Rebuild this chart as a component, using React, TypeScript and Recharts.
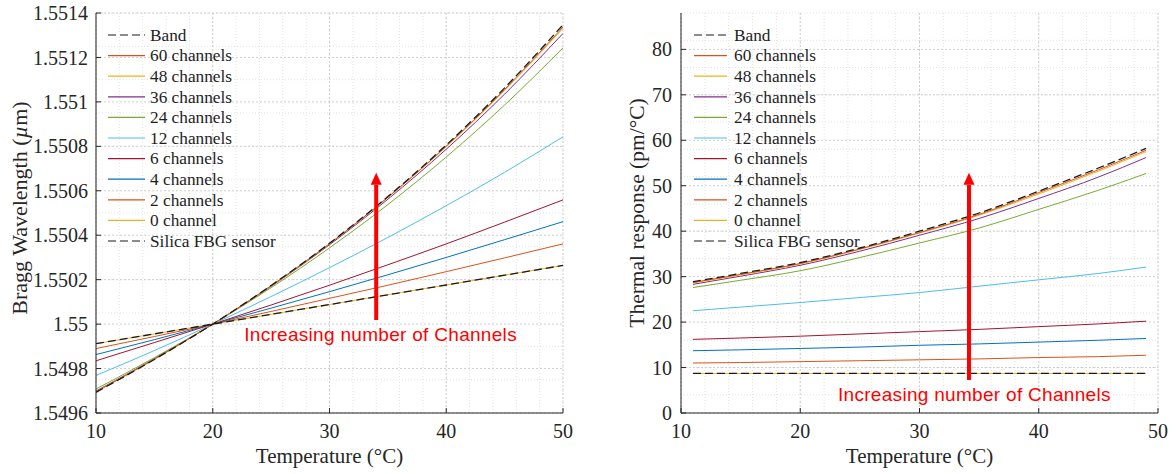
import {
    LineChart,
    Line,
    XAxis,
    YAxis,
    CartesianGrid,
    Legend,
    ReferenceLine,
} from "recharts";

// temperatures (°C)
const tempsBragg = [10, 15, 20, 25, 30, 35, 40, 45, 50];
const tempsResp = [11, 15, 20, 25, 30, 35, 40, 45, 49];

// Bragg wavelength (µm), left panel
const braggBand = [1.549693, 1.549841, 1.55, 1.550174, 1.550364, 1.550574, 1.550806, 1.551063, 1.551347];
const bragg60 = [1.549695, 1.549842, 1.55, 1.550173, 1.550362, 1.550571, 1.550801, 1.551056, 1.551337];
const bragg48 = [1.549696, 1.549842, 1.55, 1.550172, 1.550361, 1.550569, 1.550798, 1.551052, 1.551331];
const bragg36 = [1.549699, 1.549844, 1.55, 1.55017, 1.550357, 1.550562, 1.550787, 1.551035, 1.551308];
const bragg24 = [1.549708, 1.549849, 1.55, 1.550164, 1.550343, 1.550538, 1.550752, 1.550986, 1.551243];
const bragg12 = [1.549769, 1.549881, 1.55, 1.550124, 1.550254, 1.55039, 1.550533, 1.550683, 1.550843];
const bragg6 = [1.549835, 1.549917, 1.55, 1.550086, 1.550175, 1.550267, 1.550361, 1.550459, 1.550559];
const bragg4 = [1.549863, 1.54993, 1.55, 1.550072, 1.550146, 1.550222, 1.5503, 1.55038, 1.550461];
const bragg2 = [1.54989, 1.549944, 1.55, 1.550057, 1.550116, 1.550175, 1.550236, 1.550298, 1.550361];
const bragg0 = [1.549912, 1.549956, 1.55, 1.550044, 1.550088, 1.550132, 1.550176, 1.55022, 1.550264];
const braggSilica = [1.549912, 1.549956, 1.55, 1.550044, 1.550088, 1.550132, 1.550176, 1.55022, 1.550264];

// thermal response (pm/°C), right panel
const respBand = [28.9, 30.7, 33.1, 36.3, 40.0, 44.0, 48.8, 53.9, 58.2];
const resp60 = [28.7, 30.5, 32.9, 36.1, 39.7, 43.7, 48.5, 53.5, 57.8];
const resp48 = [28.6, 30.4, 32.8, 36.0, 39.6, 43.5, 48.2, 53.2, 57.5];
const resp36 = [28.3, 30.1, 32.5, 35.6, 39.1, 42.8, 47.2, 51.9, 56.2];
const resp24 = [27.6, 29.2, 31.3, 34.2, 37.4, 40.7, 44.8, 49.0, 52.7];
const resp12 = [22.5, 23.3, 24.3, 25.4, 26.5, 27.9, 29.3, 30.7, 32.1];
const resp6 = [16.2, 16.5, 16.9, 17.4, 17.9, 18.4, 19.0, 19.6, 20.2];
const resp4 = [13.7, 13.9, 14.2, 14.5, 14.9, 15.2, 15.6, 16.0, 16.4];
const resp2 = [11.0, 11.1, 11.3, 11.5, 11.7, 11.9, 12.2, 12.4, 12.7];
const resp0 = [8.7, 8.7, 8.7, 8.7, 8.7, 8.7, 8.7, 8.7, 8.7];
const respSilica = [8.7, 8.7, 8.7, 8.7, 8.7, 8.7, 8.7, 8.7, 8.7];

// ticks
const xTicks = [10, 20, 30, 40, 50];
const braggTicks = [1.5496, 1.5498, 1.55, 1.5502, 1.5504, 1.5506, 1.5508, 1.551, 1.5512, 1.5514];
const respTicks = [0, 10, 20, 30, 40, 50, 60, 70, 80];

// arrow annotations (data coords)
const braggArrow = { x: 34, from: 1.5500185, to: 1.5506814 };
const respArrow = { x: 34.15, from: 7.26, to: 52.87 };

const series = [
    { key: "band", name: "Band", color: "#1a1a1a", dashed: true },
    { key: "c60", name: "60 channels", color: "#D95319", dashed: false },
    { key: "c48", name: "48 channels", color: "#EDB120", dashed: false },
    { key: "c36", name: "36 channels", color: "#7E2F8E", dashed: false },
    { key: "c24", name: "24 channels", color: "#77AC30", dashed: false },
    { key: "c12", name: "12 channels", color: "#4DBEEE", dashed: false },
    { key: "c6", name: "6 channels", color: "#A2142F", dashed: false },
    { key: "c4", name: "4 channels", color: "#0072BD", dashed: false },
    { key: "c2", name: "2 channels", color: "#D95319", dashed: false },
    { key: "c0", name: "0 channel", color: "#EDB120", dashed: false },
    { key: "silica", name: "Silica FBG sensor", color: "#1a1a1a", dashed: true },
];

// draw colored lines first, dashed ones on top
const drawOrder = [...series.filter((s) => !s.dashed).reverse(), ...series.filter((s) => s.dashed)];

const braggData = tempsBragg.map((t, i) => ({
    t,
    band: braggBand[i],
    c60: bragg60[i],
    c48: bragg48[i],
    c36: bragg36[i],
    c24: bragg24[i],
    c12: bragg12[i],
    c6: bragg6[i],
    c4: bragg4[i],
    c2: bragg2[i],
    c0: bragg0[i],
    silica: braggSilica[i],
}));

const respData = tempsResp.map((t, i) => ({
    t,
    band: respBand[i],
    c60: resp60[i],
    c48: resp48[i],
    c36: resp36[i],
    c24: resp24[i],
    c12: resp12[i],
    c6: resp6[i],
    c4: resp4[i],
    c2: resp2[i],
    c0: resp0[i],
    silica: respSilica[i],
}));

const steps = (start: number, stop: number, step: number, digits: number) => {
    const out: number[] = [];
    const n = Math.round((stop - start) / step);
    for (let i = 0; i <= n; i++) out.push(Number((start + i * step).toFixed(digits)));
    return out;
};

const xMinor = steps(10, 50, 2, 0);
const braggMinor = steps(1.5496, 1.5514, 0.00005, 5);
const respMinor = steps(0, 88, 2, 0);

const serif = '"Liberation Serif", "Times New Roman", serif';
const sans = '"Liberation Sans", Arial, sans-serif';
const ink = "#262626";

const tickStyle = { fill: ink, fontSize: 20, fontFamily: serif, style: { fontFamily: serif } };

function LegendBlock({ lineW, gap }: { lineW: number; gap: number }) {
    return (
        <svg width={240} height={240} style={{ display: "block", overflow: "visible" }}>
            {series.map((s, i) => {
                const y = 13 + i * 20.6;
                return (
                    <g key={s.key}>
                        <line
                            x1={8}
                            x2={8 + lineW}
                            y1={y}
                            y2={y}
                            stroke={s.color}
                            strokeWidth={1.2}
                            strokeDasharray={s.dashed ? "8 4" : undefined}
                        />
                        <text
                            x={8 + lineW + gap}
                            y={y}
                            dy="0.33em"
                            fontSize={17.3}
                            fontFamily={serif}
                            style={{ fontFamily: serif }}
                            fill="#1e1e1e"
                        >
                            {s.name}
                        </text>
                    </g>
                );
            })}
        </svg>
    );
}

function XLabel(props: any) {
    const { viewBox } = props;
    return (
        <text
            x={viewBox.x + viewBox.width / 2}
            y={viewBox.y + 50}
            textAnchor="middle"
            fontSize={21}
            fontFamily={serif}
            fill={ink}
        >
            Temperature (°C)
        </text>
    );
}

function YLabel(props: any) {
    const { viewBox, cx, shift, size, children } = props;
    const cy = viewBox.y + viewBox.height / 2 + shift;
    return (
        <text
            x={cx}
            y={cy}
            dy="0.33em"
            transform={`rotate(-90 ${cx} ${cy})`}
            textAnchor="middle"
            fontSize={size}
            fontFamily={serif}
            fill={ink}
        >
            {children}
        </text>
    );
}

function Arrow(props: any) {
    const { x1, y1, x2, y2, textDx } = props;
    const head = 12;
    return (
        <g>
            <line x1={x1} y1={y1} x2={x2} y2={y2 + head} stroke="#ff0000" strokeWidth={4} />
            <polygon points={`${x2 - 5.5},${y2 + head} ${x2 + 5.5},${y2 + head} ${x2},${y2}`} fill="#ff0000" />
            <text x={x1 + textDx} y={y1 + 21} fontSize={19} letterSpacing={0.3} fontFamily={sans} fill="#ff0000">
                Increasing number of Channels
            </text>
        </g>
    );
}

function renderLines() {
    return drawOrder.map((s) => (
        <Line
            key={s.key}
            type="monotone"
            dataKey={s.key}
            name={s.name}
            stroke={s.color}
            strokeWidth={s.dashed ? 1.3 : 1}
            strokeDasharray={s.dashed ? "8 4" : undefined}
            dot={false}
            activeDot={false}
            isAnimationActive={false}
        />
    ));
}

export default function App() {
    return (
        <div style={{ position: "absolute", left: 0, top: 0, width: 1176, height: 474, background: "#fff", display: "flex" }}>
            <LineChart width={590} height={474} data={braggData} margin={{ top: 13, right: 27, bottom: 0, left: 0 }}>
                <CartesianGrid verticalValues={xMinor} horizontalValues={braggMinor} stroke="#e3e3e3" strokeDasharray="1 2" fill="none" />
                <CartesianGrid verticalValues={xTicks} horizontalValues={braggTicks} stroke="#cfcfcf" strokeDasharray="2 2" fill="none" />
                <XAxis
                    type="number"
                    dataKey="t"
                    domain={[10, 50]}
                    ticks={xTicks}
                    allowDataOverflow
                    height={61}
                    tickSize={-5}
                    tickMargin={16}
                    tick={tickStyle}
                    stroke={ink}
                    label={<XLabel />}
                />
                <YAxis
                    type="number"
                    domain={[1.5496, 1.5514]}
                    ticks={braggTicks}
                    allowDataOverflow
                    width={96}
                    tickSize={-5}
                    tickMargin={13}
                    tick={tickStyle}
                    stroke={ink}
                    tickFormatter={(v: number) => String(Number(v.toFixed(4)))}
                    label={
                        <YLabel cx={20} shift={-5} size={22}>
                            Bragg Wavelength (<tspan fontStyle="italic">µ</tspan>m)
                        </YLabel>
                    }
                />
                {renderLines()}
                <ReferenceLine
                    segment={[
                        { x: braggArrow.x, y: braggArrow.from },
                        { x: braggArrow.x, y: braggArrow.to },
                    ]}
                    shape={(p: any) => <Arrow {...p} textDx={-132} />}
                />
                <Legend
                    layout="vertical"
                    align="center"
                    verticalAlign="middle"
                    wrapperStyle={{ left: 100, top: 22, width: 240, height: 240 }}
                    content={() => <LegendBlock lineW={37} gap={5} />}
                />
            </LineChart>

            <LineChart width={586} height={474} data={respData} margin={{ top: 13, right: 18, bottom: 0, left: 0 }}>
                <CartesianGrid verticalValues={xMinor} horizontalValues={respMinor} stroke="#e3e3e3" strokeDasharray="1 2" fill="none" />
                <CartesianGrid verticalValues={xTicks} horizontalValues={respTicks} stroke="#cfcfcf" strokeDasharray="2 2" fill="none" />
                <XAxis
                    type="number"
                    dataKey="t"
                    domain={[10, 50]}
                    ticks={xTicks}
                    allowDataOverflow
                    height={61}
                    tickSize={-5}
                    tickMargin={16}
                    tick={tickStyle}
                    stroke={ink}
                    label={<XLabel />}
                />
                <YAxis
                    type="number"
                    domain={[0, 88]}
                    ticks={respTicks}
                    allowDataOverflow
                    width={91}
                    tickSize={-5}
                    tickMargin={14}
                    tick={tickStyle}
                    stroke={ink}
                    label={
                        <YLabel cx={47} shift={0} size={21.5}>
                            Thermal response (pm/°C)
                        </YLabel>
                    }
                />
                {renderLines()}
                <ReferenceLine
                    segment={[
                        { x: respArrow.x, y: respArrow.from },
                        { x: respArrow.x, y: respArrow.to },
                    ]}
                    shape={(p: any) => <Arrow {...p} textDx={-131} />}
                />
                <Legend
                    layout="vertical"
                    align="center"
                    verticalAlign="middle"
                    wrapperStyle={{ left: 96, top: 22, width: 240, height: 240 }}
                    content={() => <LegendBlock lineW={33} gap={7} />}
                />
            </LineChart>
        </div>
    );
}
